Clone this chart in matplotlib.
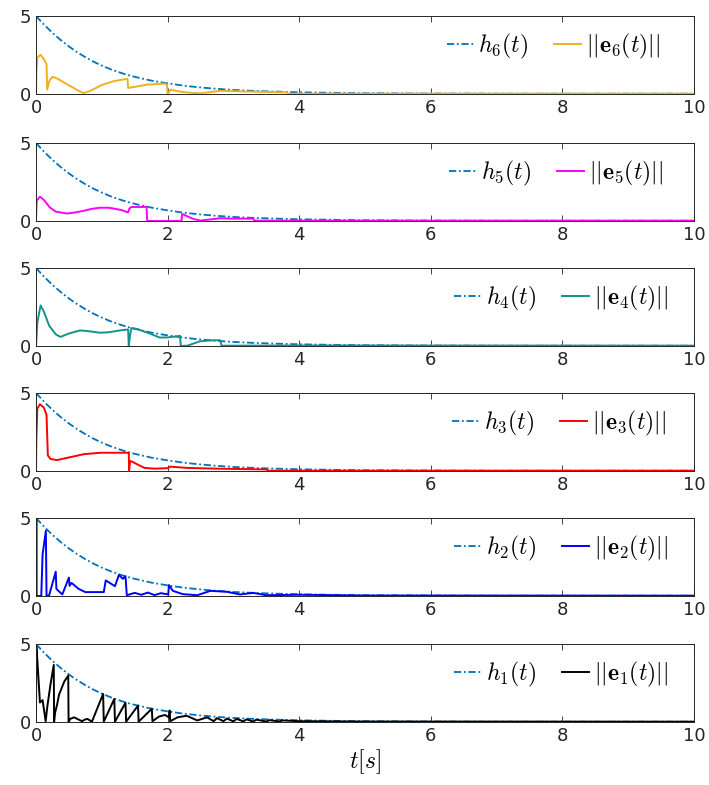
import numpy as np
import matplotlib
matplotlib.use("Agg")
from matplotlib import pyplot as plt

plt.rcParams['mathtext.fontset'] = 'cm'
plt.rcParams['font.family'] = 'DejaVu Sans'

#------------------------values------------------------
# bound h_i(t), same in every panel
h_t = [0, 0.125, 0.25, 0.375, 0.5, 0.625, 0.75, 0.875, 1.0, 1.125, 1.25, 1.375,
       1.5, 1.75, 2.0, 2.25, 2.5, 2.75, 3.0, 3.25, 3.5, 3.75, 4.0, 4.5, 5.0,
       6.0, 7.0, 8.0, 9.0, 10.0]
h_v = [5.0, 4.43, 3.92, 3.46, 3.05, 2.68, 2.36, 2.07, 1.82, 1.6, 1.41, 1.24,
       1.1, 0.86, 0.68, 0.53, 0.42, 0.33, 0.26, 0.21, 0.17, 0.14, 0.11, 0.075, 0.05,
       0.03, 0.02, 0.02, 0.02, 0.02]

# ||e6(t)||
e6_t = [0, 0.005, 0.02, 0.07, 0.12, 0.16, 0.17, 0.2, 0.25, 0.32, 0.4, 0.48, 0.56,
        0.63, 0.72, 0.81, 0.9, 0.98, 1.08, 1.18, 1.28, 1.39, 1.40, 1.49, 1.69,
        1.95, 1.99, 2.0, 2.05, 2.15, 2.29, 2.49, 2.65, 2.8, 3.1, 3.5, 3.82, 3.83,
        5.0, 10.0]
e6_v = [0, 1.2, 2.34, 2.51, 2.23, 1.9, 0.28, 0.82, 1.1, 1.0, 0.8, 0.6, 0.42,
        0.24, 0.06, 0.17, 0.36, 0.54, 0.69, 0.82, 0.9, 0.97, 0.39, 0.45, 0.6,
        0.67, 0.6, 0.0, 0.28, 0.18, 0.1, 0.04, 0.12, 0.2, 0.17, 0.13, 0.1, 0.02,
        0.02, 0.02]

# ||e5(t)||
e5_t = [0, 0.01, 0.06, 0.12, 0.21, 0.3, 0.47, 0.6, 0.72, 0.85, 0.97, 1.1, 1.18,
        1.3, 1.40, 1.42, 1.45, 1.68, 1.69, 2.21, 2.22, 2.3, 2.4, 2.5, 2.65, 2.8,
        3.0, 3.3, 3.32, 5.0, 10.0]
e5_v = [0, 1.3, 1.56, 1.35, 0.87, 0.6, 0.48, 0.55, 0.65, 0.78, 0.85, 0.85, 0.8,
        0.7, 0.55, 0.8, 0.9, 0.9, 0.0, 0.0, 0.45, 0.3, 0.12, 0.03, 0.1, 0.18,
        0.15, 0.15, 0.02, 0.02, 0.02]

# ||e4(t)||
e4_t = [0, 0.02, 0.07, 0.12, 0.2, 0.3, 0.37, 0.5, 0.67, 0.8, 0.97, 1.1, 1.28,
        1.40, 1.41, 1.43, 1.45, 1.53, 1.73, 1.88, 2.0, 2.19, 2.2, 2.3, 2.49, 2.65,
        2.8, 2.82, 4.0, 10.0]
e4_v = [0, 1.5, 2.6, 2.2, 1.3, 0.75, 0.58, 0.8, 1.0, 0.95, 0.85, 0.88, 1.0,
        1.06, 0.0, 0.7, 1.15, 1.1, 0.8, 0.54, 0.55, 0.65, 0.0, 0.02, 0.3, 0.36,
        0.37, 0.02, 0.03, 0.02]

# ||e3(t)||
e3_t = [0, 0.005, 0.02, 0.06, 0.12, 0.16, 0.18, 0.22, 0.32, 0.48, 0.73, 0.98,
        1.41, 1.415, 1.43, 1.46, 1.55, 1.65, 1.8, 2.0, 2.04, 2.29, 2.75, 3.5,
        3.53, 5.0, 10.0]
e3_v = [0, 2.0, 4.0, 4.28, 4.06, 3.6, 1.0, 0.77, 0.7, 0.85, 1.08, 1.17,
        1.17, 0.05, 0.64, 0.6, 0.4, 0.2, 0.15, 0.18, 0.28, 0.2, 0.15, 0.1,
        0.02, 0.02, 0.02]

# ||e2(t)||
e2_t = [0, 0.005, 0.01, 0.08, 0.1, 0.15, 0.16, 0.2, 0.3, 0.31, 0.4, 0.5, 0.51,
        0.54, 0.65, 0.75, 1.03, 1.06, 1.2, 1.26, 1.32, 1.36, 1.38, 1.5, 1.6,
        1.7, 1.8, 1.9, 2.01, 2.02, 2.08, 2.23, 2.45, 2.65, 2.9, 3.1, 3.3, 3.5,
        4.0, 5.0, 10.0]
e2_v = [0, 5.0, 0, 0, 2.66, 4.18, 0, 0.05, 1.56, 0.45, 0.1, 1.18, 0.65,
        0.84, 0.45, 0.25, 0.25, 1.0, 0.63, 1.35, 1.1, 1.27, 0.05, 0.2, 0.08,
        0.22, 0.06, 0.18, 0.1, 0.7, 0.33, 0.12, 0.05, 0.33, 0.27, 0.1, 0.2, 0.05,
        0.08, 0.03, 0.02]

# ||e1(t)||
e1_t = [0, 0.005, 0.02, 0.06, 0.1, 0.147, 0.17, 0.22, 0.27, 0.275, 0.29, 0.32,
        0.35, 0.43, 0.49, 0.495, 0.52, 0.58, 0.65, 0.7, 0.74, 0.78, 0.82, 0.85,
        1.02, 1.03, 1.19, 1.2, 1.36, 1.37, 1.55, 1.56, 1.76, 1.77, 1.87, 1.96,
        2.02, 2.03, 2.04, 2.15, 2.29, 2.45, 2.6, 2.7, 2.75, 2.85, 2.9, 3.0, 3.05,
        3.15, 3.2, 3.3, 3.35, 3.5, 3.55, 3.7, 3.75, 4.0, 5.0, 10.0]
e1_v = [0, 4.85, 4.0, 1.25, 1.4, 0.05, 0.93, 2.4, 3.66, 0.0, 0.6, 1.1,
        1.75, 2.6, 2.97, 0.0, 0.2, 0.3, 0.15, 0.05, 0.15, 0.2, 0.1, 0.02,
        1.8, 0.02, 1.48, 0.02, 1.23, 0.02, 1.05, 0.02, 0.85, 0.05, 0.35, 0.45,
        0.3, 0.74, 0.05, 0.3, 0.4, 0.1, 0.3, 0.05, 0.25, 0.05, 0.22,
        0.04, 0.2, 0.04, 0.17, 0.03, 0.15, 0.03, 0.12, 0.03, 0.1, 0.05, 0.03, 0.02]

series = [(e6_t, e6_v, '#EDB120', 6),
          (e5_t, e5_v, '#FF00FF', 5),
          (e4_t, e4_v, '#14928C', 4),
          (e3_t, e3_v, '#FF0000', 3),
          (e2_t, e2_v, '#0000FF', 2),
          (e1_t, e1_v, '#000000', 1)]

#------------------------figure------------------------
fig = plt.figure(figsize=(7.09, 7.85), dpi=100)
W, H = 709.0, 785.0
left, right = 36, 694
tops = [16, 143, 268, 393, 518, 644]
ph = 78
legend_x = [0.963, 0.967, 0.975, 0.972, 0.975, 0.975]

for k, (tt, vv, col, idx) in enumerate(series):
    ax = fig.add_axes([left / W, 1 - (tops[k] + ph) / H, (right - left) / W, ph / H])
    ax.plot(h_t, h_v, color='#0072BD', lw=1.3, ls=(0, (4, 1.5, 1, 1.5)),
            label=r'$h_%d(t)$' % idx)
    ax.plot(tt, vv, color=col, lw=1.4, label=r'$||\mathbf{e}_%d(t)||$' % idx)
    ax.set_xlim(0, 10)
    ax.set_ylim(0, 5)
    ax.set_xticks([0, 2, 4, 6, 8, 10])
    ax.set_yticks([0, 5])
    ax.tick_params(direction='in', top=True, right=True, labelsize=13,
                   colors='#262626', length=4, width=0.6)
    for s in ax.spines.values():
        s.set_color('#262626')
        s.set_linewidth(0.7)
    ax.legend(loc='upper right', bbox_to_anchor=(legend_x[k], 0.92), ncol=2,
              frameon=False, fontsize=17, handlelength=1.15, handletextpad=0.2,
              columnspacing=1.1, borderaxespad=0)
    if k == 5:
        ax.set_xlabel(r'$t[s]$', fontsize=17, labelpad=2)

plt.savefig('out.png', dpi=100)
